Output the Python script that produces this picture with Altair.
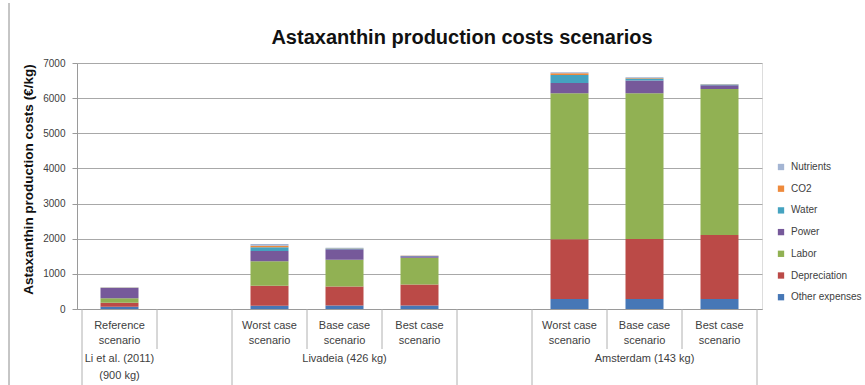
import altair as alt
import pandas as pd

# ---- data ----
title_text = "Astaxanthin production costs scenarios"
components = ["Other expenses", "Depreciation", "Labor", "Power", "Water", "CO2", "Nutrients"]
legend_order = ["Nutrients", "CO2", "Water", "Power", "Labor", "Depreciation", "Other expenses"]
colors = ["#a4b5d3", "#ee8a3c", "#45a3c0", "#76599a", "#91b153", "#bb4a47", "#4677b6"]

bar_slots = [0, 2, 3, 4, 6, 7, 8]
other_expenses = [65, 90, 100, 100, 285, 285, 285]
depreciation = [115, 570, 540, 600, 1700, 1705, 1820]
labor = [125, 700, 760, 760, 4155, 4150, 4155]
power = [290, 290, 300, 40, 290, 360, 110]
water = [10, 110, 20, 10, 230, 60, 20]
co2 = [5, 40, 10, 5, 45, 15, 5]
nutrients = [10, 50, 10, 5, 30, 20, 10]

cat_slots = [0, 2, 3, 4, 6, 7, 8]
cat_labels = ["Reference\nscenario", "Worst case\nscenario", "Base case\nscenario", "Best case\nscenario",
              "Worst case\nscenario", "Base case\nscenario", "Best case\nscenario"]
group_slots = [0, 3, 7]
group_labels = ["Li et al. (2011)\n(900 kg)", "Livadeia (426 kg)", "Amsterdam (143 kg)"]
short_bounds = [0.5, 2.5, 3.5, 6.5, 7.5]
long_bounds = [-0.5, 1.5, 4.5, 5.5, 8.5]
y_ticks = [0, 1000, 2000, 3000, 4000, 5000, 6000, 7000]

series = [other_expenses, depreciation, labor, power, water, co2, nutrients]
rows = []
for ci, (comp, vals) in enumerate(zip(components, series)):
    for s, v in zip(bar_slots, vals):
        rows.append({"slot": s, "component": comp, "value": v, "stack": ci})
bars_df = pd.DataFrame(rows)
cats_df = pd.DataFrame({"slot": cat_slots, "label": cat_labels})
groups_df = pd.DataFrame({"slot": group_slots, "label": group_labels})
short_df = pd.DataFrame({"pos": short_bounds})
long_df = pd.DataFrame({"pos": long_bounds})
title_df = pd.DataFrame({"t": [title_text]})

FONT = "Liberation Sans"
PW, PH = 685, 246
xscale = alt.Scale(domain=[-0.5, 8.5], nice=False, zero=False)

bars = alt.Chart(bars_df).mark_bar(size=38).encode(
    x=alt.X("slot:Q", scale=xscale,
            axis=alt.Axis(labels=False, ticks=False, grid=False, title=None,
                          domainColor="#9a9a9a", values=[])),
    y=alt.Y("value:Q", stack="zero",
            scale=alt.Scale(domain=[0, 7000], nice=False),
            axis=alt.Axis(values=y_ticks, format="d", title="Astaxanthin production costs (€/kg)",
                          titleFont=FONT, titleFontSize=13.5, titleFontWeight="bold",
                          titleColor="#111111", titlePadding=7, titleY=116,
                          labelFont=FONT, labelFontSize=10, labelColor="#404040",
                          labelPadding=7, tickSize=5, tickColor="#9a9a9a",
                          domainColor="#9a9a9a", gridColor="#a8a8a8", gridWidth=1)),
    color=alt.Color("component:N",
                    scale=alt.Scale(domain=legend_order, range=colors),
                    legend=alt.Legend(title=None, orient="none", legendX=PW + 14, legendY=99,
                                      symbolType="square", symbolSize=40, symbolStrokeWidth=0,
                                      labelFont=FONT, labelFontSize=10, labelColor="#404040",
                                      rowPadding=11.7, labelOffset=5)),
    order=alt.Order("stack:Q", sort="ascending"),
)

cat_text = alt.Chart(cats_df).mark_text(
    font=FONT, fontSize=11, color="#404040", baseline="top", lineBreak="\n", lineHeight=15
).encode(x=alt.X("slot:Q", scale=xscale), y=alt.value(PH + 11), text="label:N")

group_text = alt.Chart(groups_df).mark_text(
    font=FONT, fontSize=11, color="#404040", baseline="top", lineBreak="\n", lineHeight=16.5
).encode(x=alt.X("slot:Q", scale=xscale), y=alt.value(PH + 44), text="label:N")

short_rules = alt.Chart(short_df).mark_rule(color="#b0b0b0", strokeWidth=1).encode(
    x=alt.X("pos:Q", scale=xscale), y=alt.value(PH), y2=alt.value(PH + 40))
long_rules = alt.Chart(long_df).mark_rule(color="#b0b0b0", strokeWidth=1).encode(
    x=alt.X("pos:Q", scale=xscale), y=alt.value(PH), y2=alt.value(PH + 80))

# chart-area frame (left edge visible in the reference)
frame = alt.Chart(short_df).mark_rule(color="#c4c4c4", strokeWidth=1).encode(
    x=alt.value(-68), y=alt.value(-60), y2=alt.value(PH + 80))

title = alt.Chart(title_df).mark_text(
    font=FONT, fontSize=20, fontWeight="bold", color="#111111", baseline="alphabetic", align="center"
).encode(x=alt.value(385), y=alt.value(-19), text="t:N")

chart = alt.layer(frame, bars, short_rules, long_rules, cat_text, group_text, title).properties(
    width=PW, height=PH,
    autosize=alt.AutoSizeParams(type="none"),
    padding={"left": 77, "top": 63, "right": 865 - 77 - PW, "bottom": 385 - 63 - PH},
).configure_view(fill="#e6e6e6", stroke=None).configure(background="white")

chart.save("out.html", embed_options={"renderer": "svg", "actions": False})
